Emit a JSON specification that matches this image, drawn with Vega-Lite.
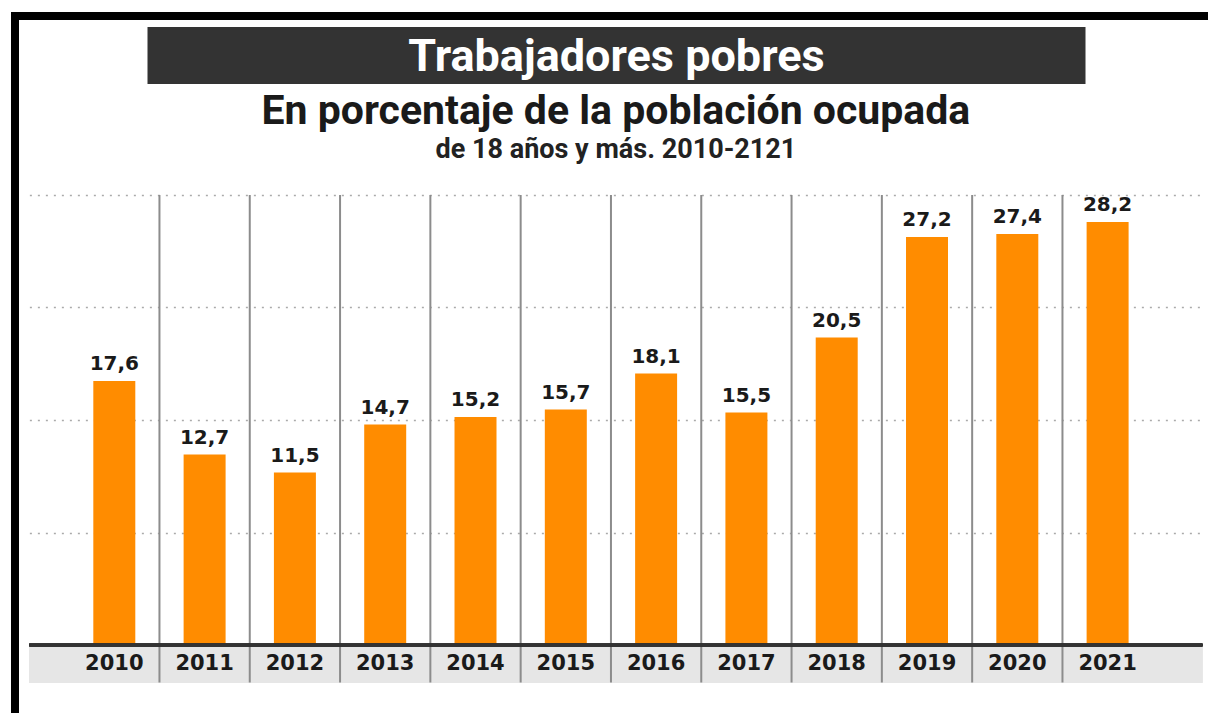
{
  "$schema": "https://vega.github.io/schema/vega-lite/v6.json",
  "background": "white",
  "padding": {"left": 11, "top": 12, "right": 0, "bottom": 0},
  "config": {"view": {"stroke": null}, "font": "Roboto"},
  "datasets": {
    "pobres": [
      {"year": "2010", "value": 17.6, "label": "17,6"},
      {"year": "2011", "value": 12.7, "label": "12,7"},
      {"year": "2012", "value": 11.5, "label": "11,5"},
      {"year": "2013", "value": 14.7, "label": "14,7"},
      {"year": "2014", "value": 15.2, "label": "15,2"},
      {"year": "2015", "value": 15.7, "label": "15,7"},
      {"year": "2016", "value": 18.1, "label": "18,1"},
      {"year": "2017", "value": 15.5, "label": "15,5"},
      {"year": "2018", "value": 20.5, "label": "20,5"},
      {"year": "2019", "value": 27.2, "label": "27,2"},
      {"year": "2020", "value": 27.4, "label": "27,4"},
      {"year": "2021", "value": 28.2, "label": "28,2"}
    ],
    "blank": [{"t": ""}],
    "titulo": [{"t": "Trabajadores pobres"}]
  },
  "hconcat": [
    {
      "width": 8,
      "height": 720,
      "view": {"fill": "#000000", "stroke": null},
      "data": {"name": "blank"},
      "mark": {"type": "text", "fontSize": 0},
      "encoding": {"text": {"field": "t"}}
    },
    {
      "vconcat": [
        {
          "width": 1195,
          "height": 8,
          "view": {"fill": "#000000", "stroke": null},
          "data": {"name": "blank"},
          "mark": {"type": "text", "fontSize": 0},
          "encoding": {"text": {"field": "t"}}
        },
        {
          "width": 938,
          "height": 57,
          "view": {"fill": "#333333", "stroke": null},
          "data": {"name": "titulo"},
          "mark": {"type": "text", "font": "Roboto", "fontWeight": "bold", "fontSize": 45, "color": "#ffffff", "align": "center", "baseline": "middle", "dy": 1},
          "encoding": {"text": {"field": "t"}}
        },
        {
          "width": 1173,
          "height": 487.5,
          "title": {
            "text": "En porcentaje de la población ocupada",
            "subtitle": "de 18 años y más. 2010-2121",
            "anchor": "middle",
            "font": "Roboto",
            "fontSize": 41,
            "fontWeight": "bold",
            "color": "#1a1a1a",
            "subtitleFont": "Roboto",
            "subtitleFontSize": 27,
            "subtitleFontWeight": "bold",
            "subtitleColor": "#222222",
            "subtitlePadding": 4,
            "offset": 30
          },
          "data": {"name": "pobres"},
          "encoding": {
            "x": {
              "field": "year",
              "type": "ordinal",
              "sort": null,
              "axis": null,
              "scale": {"paddingInner": 0, "paddingOuter": 0.495, "align": 0.445}
            }
          },
          "layer": [
            {
              "mark": {"type": "rect", "color": "#e6e6e6"},
              "encoding": {
                "x": null,
                "y": {"datum": 0, "type": "quantitative", "scale": {"domain": [-2.5, 30], "nice": false, "zero": false}},
                "y2": {"datum": -2.5}
              }
            },
            {
              "mark": {"type": "bar", "color": "#FF8C00", "width": {"band": 0.465}},
              "encoding": {
                "y": {
                  "field": "value",
                  "type": "quantitative",
                  "scale": {"domain": [-2.5, 30], "nice": false, "zero": false},
                  "axis": {
                    "values": [7.5, 15, 22.5, 30],
                    "grid": true,
                    "gridDash": [2, 6],
                    "gridColor": "#aaaaaa",
                    "gridWidth": 1.5,
                    "labels": false,
                    "ticks": false,
                    "domain": false,
                    "title": null
                  }
                },
                "y2": {"datum": 0}
              }
            },
            {
              "transform": [{"filter": "datum.year != '2010'"}],
              "mark": {"type": "rule", "color": "#8c8c8c", "strokeWidth": 2},
              "encoding": {
                "x": {"field": "year", "type": "ordinal", "sort": null, "bandPosition": 0},
                "y": {"datum": 30, "type": "quantitative"},
                "y2": {"datum": -2.5}
              }
            },
            {
              "mark": {"type": "rule", "color": "#333333", "strokeWidth": 2.5},
              "encoding": {"x": null, "y": {"datum": 0, "type": "quantitative"}}
            },
            {
              "mark": {"type": "text", "font": "DejaVu Sans", "fontWeight": "bold", "fontSize": 20, "color": "#1a1a1a", "baseline": "alphabetic", "dy": -11},
              "encoding": {
                "y": {"field": "value", "type": "quantitative"},
                "text": {"field": "label"}
              }
            },
            {
              "mark": {"type": "text", "font": "DejaVu Sans", "fontWeight": "bold", "fontSize": 21, "color": "#1a1a1a", "baseline": "middle"},
              "encoding": {
                "y": {"datum": -1.25, "type": "quantitative"},
                "text": {"field": "year"}
              }
            }
          ]
        }
      ],
      "spacing": 7,
      "center": true
    }
  ],
  "spacing": 0
}
